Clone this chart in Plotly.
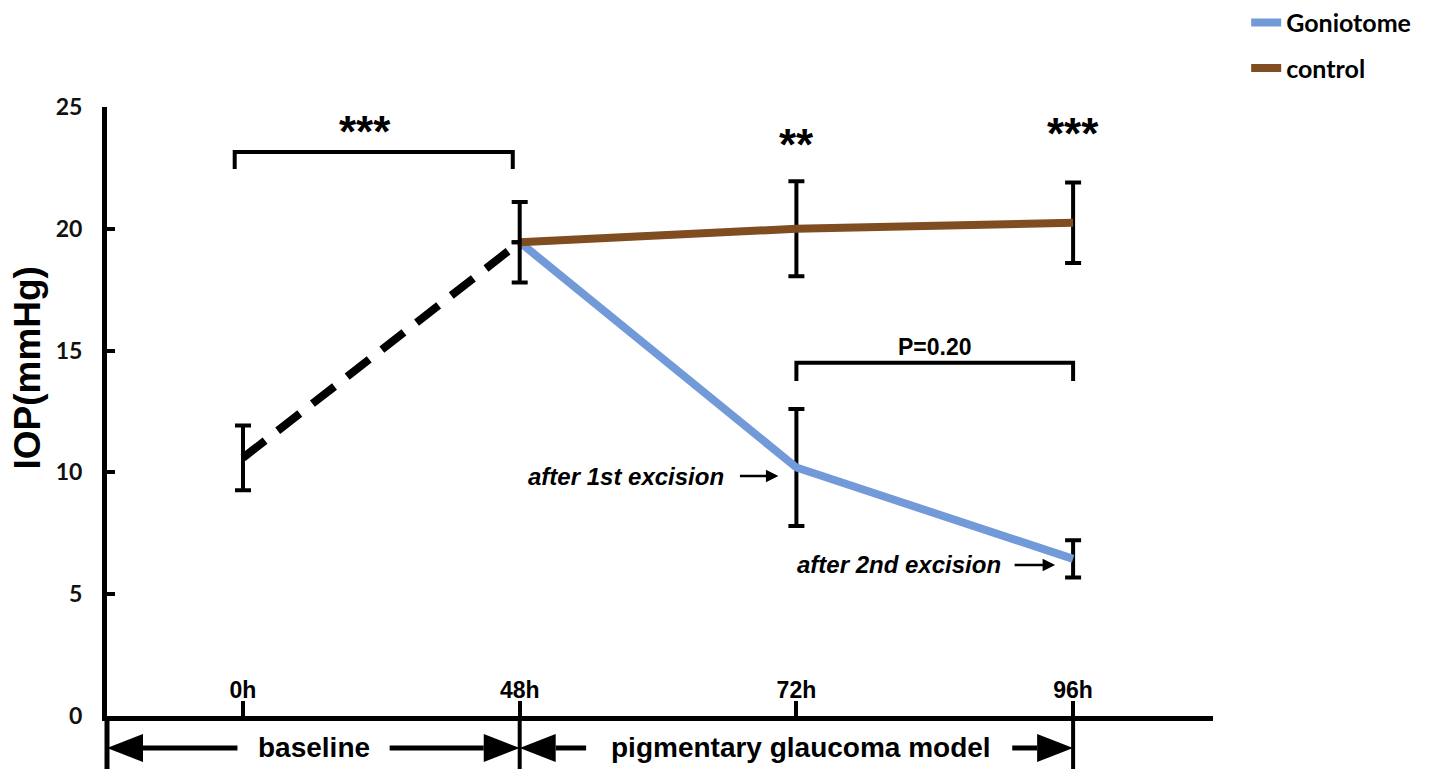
import plotly.graph_objects as go

# ---------------- data ----------------
time_labels = ["0h", "48h", "72h", "96h"]
time_pos = [0, 1, 2, 3]

baseline_x = [0, 1]
baseline_iop = [10.6, 19.45]
baseline_sd = [1.33, 1.65]

treat_x = [1, 2, 3]
gonio_iop = [19.45, 10.2, 6.45]
gonio_sd = [None, 2.4, 0.76]
control_iop = [19.45, 20.0, 20.25]
control_sd = [None, 1.95, 1.65]

y_ticks = [0, 5, 10, 15, 20, 25]

BLUE = "#7299D8"
BROWN = "#7F4D1F"
BLACK = "#000000"

fig = go.Figure()

fig.add_trace(go.Scatter(
    x=treat_x, y=gonio_iop, mode="lines", name="Goniotome",
    line=dict(color=BLUE, width=8), legendgroup="g",
    error_y=dict(type="data", array=gonio_sd, color=BLACK, thickness=4, width=8),
))
fig.add_trace(go.Scatter(
    x=treat_x, y=control_iop, mode="lines", name="control",
    line=dict(color=BROWN, width=8), legendgroup="c",
    error_y=dict(type="data", array=control_sd, color=BLACK, thickness=4, width=8),
))
fig.add_trace(go.Scatter(
    x=baseline_x, y=baseline_iop, mode="lines", showlegend=False,
    line=dict(color=BLACK, width=8, dash="28px,16px"),
    error_y=dict(type="data", array=baseline_sd, color=BLACK, thickness=4, width=8),
))

shapes = []
annotations = []

# significance brackets
def bracket(x0, x1, ytop, ybot):
    shapes.append(dict(type="path", xref="x", yref="y",
                       path=f"M{x0},{ybot} L{x0},{ytop} L{x1},{ytop} L{x1},{ybot}",
                       line=dict(color=BLACK, width=4)))

bracket(-0.03, 0.975, 23.15, 22.45)
bracket(2.0, 3.0, 14.5, 13.75)

star_font = dict(family="Arial", size=44, color=BLACK)
annotations += [
    dict(x=0.44, y=24.0, text="<b>***</b>", showarrow=False, font=star_font),
    dict(x=2.0, y=23.45, text="<b>**</b>", showarrow=False, font=star_font),
    dict(x=3.0, y=23.9, text="<b>***</b>", showarrow=False, font=star_font),
    dict(x=2.5, y=15.15, text="<b>P=0.20</b>", showarrow=False,
         font=dict(family="Arial", size=23, color=BLACK)),
]

# y-axis title
annotations.append(dict(x=-0.0715, y=14.3, xref="paper", yref="y", text="<b>IOP(mmHg)</b>",
                        xanchor="center", yanchor="middle",
                        textangle=-90, showarrow=False,
                        font=dict(family="Arial", size=37, color=BLACK)))

# excision notes
note_font = dict(family="Arial", size=24, color=BLACK)
annotations += [
    dict(x=1.745, y=9.85, xanchor="right", yanchor="middle", text="<b><i>after 1st excision</i></b>",
         showarrow=False, font=note_font),
    dict(x=1.935, y=9.85, ax=-40, ay=0, text="", showarrow=True,
         arrowhead=2, arrowsize=1, arrowwidth=2.5, arrowcolor=BLACK),
    dict(x=2.745, y=6.2, xanchor="right", yanchor="middle", text="<b><i>after 2nd excision</i></b>",
         showarrow=False, font=note_font),
    dict(x=2.935, y=6.2, ax=-42, ay=0, text="", showarrow=True,
         arrowhead=2, arrowsize=1, arrowwidth=2.5, arrowcolor=BLACK),
]

# ---------------- phase arrows below the axis ----------------
row_y = -0.0525
head_len = 0.13
head_half = 0.023
bottom = -0.1

# vertical separators
shapes.append(dict(type="line", xref="paper", yref="paper", x0=0, x1=0, y0=0, y1=bottom,
                   line=dict(color=BLACK, width=5)))
for xv in [1, 3]:
    shapes.append(dict(type="line", xref="x", yref="paper", x0=xv, x1=xv, y0=0, y1=bottom,
                       line=dict(color=BLACK, width=4)))

def left_head(xt):
    shapes.append(dict(type="path", xref="x", yref="paper",
                       path=f"M{xt},{row_y} L{xt+head_len},{row_y+head_half} L{xt+head_len},{row_y-head_half} Z",
                       fillcolor=BLACK, line=dict(color=BLACK, width=0)))

def right_head(xt):
    shapes.append(dict(type="path", xref="x", yref="paper",
                       path=f"M{xt},{row_y} L{xt-head_len},{row_y+head_half} L{xt-head_len},{row_y-head_half} Z",
                       fillcolor=BLACK, line=dict(color=BLACK, width=0)))

def hline(x0, x1):
    shapes.append(dict(type="line", xref="x", yref="paper", x0=x0, x1=x1, y0=row_y, y1=row_y,
                       line=dict(color=BLACK, width=5)))

x_left = -0.4915
left_head(x_left); hline(x_left + head_len, -0.02)
hline(0.53, 1 - head_len); right_head(1)
left_head(1); hline(1 + head_len, 1.24)
hline(2.78, 3 - head_len); right_head(3)

phase_font = dict(family="Arial", size=28, color=BLACK)
annotations += [
    dict(x=0.257, y=row_y, xref="x", yref="paper", xanchor="center", yanchor="middle",
         text="<b>baseline</b>", showarrow=False, font=phase_font),
    dict(x=2.015, y=row_y, xref="x", yref="paper", xanchor="center", yanchor="middle",
         text="<b>pigmentary glaucoma model</b>", showarrow=False, font=phase_font),
]

fig.update_layout(
    width=1426, height=761,
    margin=dict(l=99, r=221, t=99, b=53, autoexpand=False),
    paper_bgcolor="white", plot_bgcolor="white",
    shapes=shapes, annotations=annotations,
    showlegend=True,
    legend=dict(x=1.03, y=1.176, xanchor="left", yanchor="top",
                font=dict(family="Lato", size=25, color="#000", weight="bold"),
                tracegroupgap=10, traceorder="grouped", bgcolor="rgba(0,0,0,0)"),
    hovermode=False,
)

fig.update_xaxes(
    range=[-0.4915, 3.5056], tickvals=time_pos, ticktext=[f"<b>{t}</b>" for t in time_labels],
    showline=True, linecolor=BLACK, linewidth=5, ticks="inside", ticklen=15, tickwidth=4,
    tickcolor=BLACK, ticklabelstandoff=-51, showgrid=False, zeroline=False, automargin=False,
    tickfont=dict(family="Arial", size=23, color=BLACK),
)
fig.update_yaxes(
    range=[0, 25], tickvals=y_ticks, showline=True, linecolor=BLACK, linewidth=5,
    ticks="inside", ticklen=8, tickwidth=4, tickcolor=BLACK, showgrid=False, zeroline=False,
    tickfont=dict(family="Lato", size=23, color="#111", weight="bold"), ticklabelstandoff=15,
    automargin=False,
)

fig.write_html("out.html")
